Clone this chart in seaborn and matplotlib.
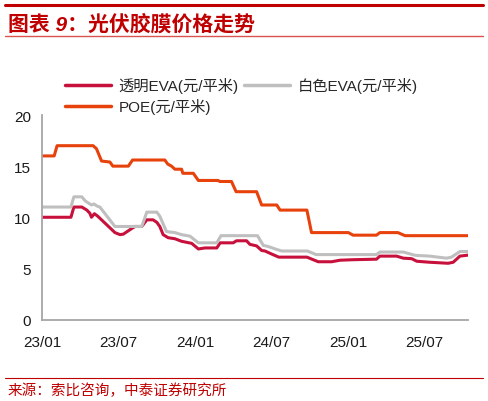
import pandas as pd
import matplotlib
matplotlib.use('Agg')
import matplotlib.pyplot as plt
import matplotlib.dates as mdates
from matplotlib.lines import Line2D
import seaborn as sns

sns.set_style('white')
plt.rcParams['font.family'] = ['Liberation Sans', 'Noto Sans CJK SC', 'DejaVu Sans']
plt.rcParams['axes.unicode_minus'] = False

# ---- data (yuan / m2) ----
poe_dates = ['2023-01-01', '2023-01-30', '2023-02-06', '2023-05-03', '2023-05-11',
             '2023-05-23', '2023-06-12', '2023-06-19', '2023-07-26', '2023-08-05',
             '2023-10-21', '2023-10-28', '2023-11-06', '2023-11-14', '2023-11-30',
             '2023-12-03', '2023-12-28', '2024-01-09', '2024-02-25', '2024-02-29',
             '2024-03-28', '2024-04-08', '2024-05-27', '2024-06-08', '2024-07-14',
             '2024-07-22', '2024-09-24', '2024-10-05', '2025-01-01', '2025-01-12',
             '2025-03-09', '2025-03-17', '2025-04-29', '2025-05-16', '2025-10-14']
poe_vals = [16.0, 16.0, 17.0, 17.0, 16.7,
            15.5, 15.4, 15.0, 15.0, 15.6,
            15.6, 15.2, 15.0, 14.7, 14.7,
            14.3, 14.3, 13.6, 13.6, 13.5,
            13.5, 12.5, 12.5, 11.2, 11.2,
            10.7, 10.7, 8.5, 8.5, 8.25,
            8.25, 8.5, 8.5, 8.2, 8.2]

white_dates = ['2023-01-01', '2023-03-11', '2023-03-18', '2023-04-06', '2023-04-14',
               '2023-04-29', '2023-05-05', '2023-05-12', '2023-05-19', '2023-06-24',
               '2023-08-27', '2023-09-08', '2023-10-02', '2023-10-09', '2023-10-25',
               '2023-11-14', '2023-11-30', '2023-12-20', '2024-01-09', '2024-02-22',
               '2024-03-03', '2024-05-29', '2024-06-12', '2024-06-23', '2024-07-14',
               '2024-07-26', '2024-09-25', '2024-10-16', '2025-03-09', '2025-03-17',
               '2025-05-12', '2025-06-09', '2025-07-14', '2025-08-23', '2025-09-04',
               '2025-09-24', '2025-10-14']
white_vals = [11.0, 11.0, 12.0, 12.0, 11.6,
              11.2, 11.3, 11.1, 11.0, 9.1,
              9.1, 10.5, 10.5, 10.1, 8.6,
              8.5, 8.3, 8.15, 7.5, 7.5,
              8.2, 8.2, 7.25, 7.15, 6.85,
              6.7, 6.7, 6.35, 6.35, 6.6,
              6.6, 6.28, 6.2, 6.0, 6.1,
              6.65, 6.65]

clear_dates = ['2023-01-01', '2023-03-11', '2023-03-18', '2023-04-06', '2023-04-18',
               '2023-04-25', '2023-04-29', '2023-05-06', '2023-05-14', '2023-06-24',
               '2023-07-06', '2023-07-14', '2023-08-03', '2023-08-11', '2023-08-27',
               '2023-09-08', '2023-09-23', '2023-10-02', '2023-10-09', '2023-10-17',
               '2023-10-29', '2023-11-14', '2023-11-30', '2023-12-24', '2024-01-09',
               '2024-01-25', '2024-02-22', '2024-03-01', '2024-04-01', '2024-04-09',
               '2024-05-03', '2024-05-11', '2024-05-27', '2024-06-08', '2024-06-16',
               '2024-07-02', '2024-07-19', '2024-09-24', '2024-10-21', '2024-11-22',
               '2024-12-12', '2025-01-13', '2025-03-09', '2025-03-17', '2025-04-26',
               '2025-05-12', '2025-06-01', '2025-06-13', '2025-07-14', '2025-08-27',
               '2025-09-08', '2025-09-24', '2025-10-14']
clear_vals = [10.0, 10.0, 11.0, 11.0, 10.7,
              10.4, 10.0, 10.35, 10.1, 8.5,
              8.3, 8.35, 8.9, 9.1, 9.1,
              9.75, 9.75, 9.5, 9.1, 8.3,
              8.0, 7.9, 7.65, 7.45, 6.9,
              7.0, 7.0, 7.5, 7.5, 7.7,
              7.7, 7.35, 7.2, 6.75, 6.7,
              6.4, 6.1, 6.1, 5.65, 5.65,
              5.8, 5.85, 5.9, 6.2, 6.2,
              6.0, 5.95, 5.7, 5.6, 5.5,
              5.6, 6.2, 6.3]

labels = ['透明EVA(元/平米)', '白色EVA(元/平米)', 'POE(元/平米)']
colors = ['#C8103C', '#BFBFBF', '#E8420C']
tick_labels = ['23/01', '23/07', '24/01', '24/07', '25/01', '25/07']

# ---- figure ----
fig = plt.figure(figsize=(4.88, 4.02), dpi=100)
ax = fig.add_axes([0.0861, 0.2027, 0.8735, 0.5087])

series = [(clear_dates, clear_vals), (white_dates, white_vals), (poe_dates, poe_vals)]
for (d, v), lab, col in zip(series, labels, colors):
    sns.lineplot(x=pd.to_datetime(d), y=v, ax=ax, color=col, lw=2.2,
                 label=lab, sort=False, legend=False)

ax.set_ylim(0, 20)
ax.set_yticks([0, 5, 10, 15, 20])
ax.set_xlim(pd.Timestamp('2023-01-01'), pd.Timestamp('2025-10-14'))
ax.set_xticks(pd.to_datetime(['2023-01-01', '2023-07-01', '2024-01-01',
                              '2024-07-01', '2025-01-01', '2025-07-01']))
ax.set_xticklabels(tick_labels)
ax.set_xlabel('')
ax.set_ylabel('')

for s in ['top', 'right']:
    ax.spines[s].set_visible(False)
for s in ['left', 'bottom']:
    ax.spines[s].set_color('#A6A6A6')
    ax.spines[s].set_linewidth(1.3)
ax.tick_params(axis='both', which='both', direction='out', length=5, width=1.3,
               color='#A6A6A6', labelsize=11, labelcolor='#1a1a1a', pad=3)
ax.tick_params(axis='x', pad=6)
ax.grid(False)

# legend above the plot, two rows
h = [Line2D([], [], color=c, lw=2.5) for c in colors]
order = [0, 2, 1]
fig.legend([h[i] for i in order], [labels[i] for i in order],
           ncol=2, loc='upper left', bbox_to_anchor=(0.133, 0.805),
           frameon=False, fontsize=11, handlelength=3.0, handletextpad=0.5,
           columnspacing=0.35, labelspacing=0.3, borderaxespad=0, borderpad=0)

# title band and source
red = '#C00000'
fig.add_artist(Line2D([0.01, 0.99], [0.985, 0.985], color=red, lw=2.2,
                      transform=fig.transFigure))
fig.add_artist(Line2D([0.01, 0.99], [0.908, 0.908], color='#D9534F', lw=1.0,
                      transform=fig.transFigure))
fig.text(0.016, 0.94, '图表 9：光伏胶膜价格走势', color=red, fontsize=15,
         fontweight='bold', fontstyle='italic', va='center', ha='left')
fig.add_artist(Line2D([0.01, 0.99], [0.057, 0.057], color=red, lw=0.8,
                      transform=fig.transFigure))
fig.text(0.016, 0.028, '来源：索比咨询，中泰证券研究所', color=red, fontsize=10.5,
         va='center', ha='left')

fig.savefig('out.png', dpi=100)
